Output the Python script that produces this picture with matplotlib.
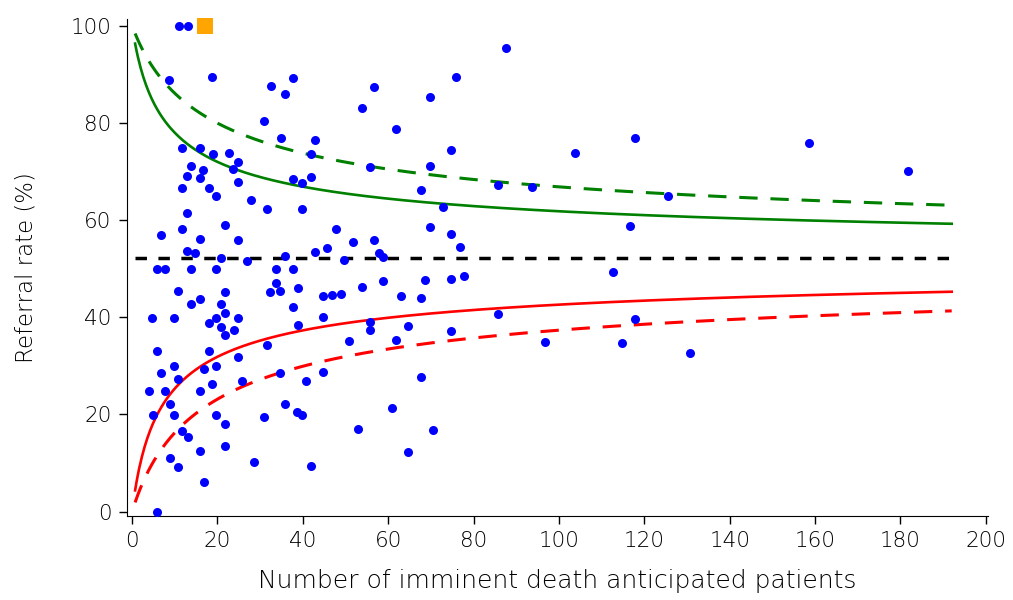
import numpy as np
import matplotlib
matplotlib.use("Agg")
import matplotlib.pyplot as plt

# Hospitals: number of imminent death anticipated patients vs referral rate (%)
n_patients = [
    11, 13, 8.7, 18.8, 32.5, 30.8,
    11.8, 15.8, 18.9, 22.7, 24.7, 23.7, 13.7, 16.7, 12.8, 15.8, 24.7,
    11.8, 17.9, 19.7, 27.8, 31.5, 12.8, 21.8, 11.8, 6.8, 15.8, 24.7, 12.8, 14.8,
    20.8, 26.9, 5.8, 7.8, 13.7, 19.7, 10.7, 21.8, 32.3, 15.8, 13.7, 20.8, 21.8,
    19.7, 4.7, 9.8, 24.7, 17.9, 20.8, 23.9, 21.8, 5.9, 17.9, 31.6,
    24.7, 9.8, 6.8, 16.9, 19.7, 10.7, 3.9, 7.8, 15.8, 18.8, 25.8, 8.8, 4.8, 9.8,
    19.7, 21.8, 30.8, 11.8, 13.0, 21.8, 15.8, 8.8, 10.8, 28.6, 16.8, 5.9,
    37.8, 35.8, 56.7, 53.8, 61.7, 34.8, 42.8, 41.8, 55.7, 37.8, 39.7, 41.8,
    39.7, 47.8, 51.8, 56.7, 45.7, 42.9, 57.8, 35.8, 49.7, 58.8, 33.7, 37.8, 58.7,
    33.7, 34.7, 38.8, 53.8, 44.8, 46.8, 49.0, 62.9, 37.8, 44.8, 38.8, 55.7, 55.7,
    50.9, 61.8,
    34.7, 44.8, 40.7, 35.8, 38.7, 39.9, 60.8, 52.8, 41.8, 64.6,
    87.7, 75.8, 69.8, 74.6, 103.7, 69.8, 67.7, 85.6, 93.7, 72.8, 69.8, 74.6, 76.8,
    68.6, 74.6, 77.8, 67.7, 85.6, 64.7, 74.6, 96.7, 67.7, 70.6,
    117.8, 158.6, 181.7, 125.6, 116.6, 112.7, 117.8, 114.8, 130.8,
]
referral_rate = [
    100, 100, 88.8, 89.4, 87.7, 80.4,
    74.8, 74.8, 73.6, 73.8, 71.9, 70.6, 71.2, 70.4, 69.0, 68.6, 67.9,
    66.6, 66.6, 64.9, 64.2, 62.3, 61.4, 59.0, 58.1, 57.0, 56.1, 55.9, 53.7, 53.2,
    52.3, 51.6, 49.9, 49.9, 49.9, 49.9, 45.4, 45.3, 45.3, 43.7, 42.8, 42.8, 40.8,
    39.9, 39.9, 39.9, 39.9, 38.8, 38.1, 37.4, 36.4, 33.1, 33.1, 34.3,
    31.8, 29.9, 28.5, 29.4, 29.9, 27.3, 24.9, 24.9, 24.9, 26.2, 26.8, 22.1, 19.9, 19.9,
    19.9, 18.1, 19.4, 16.6, 15.4, 13.6, 12.5, 11.0, 9.1, 10.3, 6.0, 0,
    89.3, 85.9, 87.5, 83.1, 78.8, 77.0, 76.5, 73.6, 71.0, 68.4, 67.6, 68.8,
    62.3, 58.1, 55.6, 55.9, 54.2, 53.5, 53.3, 52.6, 51.8, 52.4, 49.9, 49.9, 47.4,
    47.0, 45.4, 46.1, 46.2, 44.3, 44.5, 44.8, 44.3, 42.1, 40.0, 38.4, 39.1, 37.3,
    35.1, 35.4,
    28.5, 28.8, 26.8, 22.1, 20.5, 19.9, 21.3, 17.0, 9.4, 12.3,
    95.4, 89.4, 85.4, 74.5, 73.9, 71.2, 66.1, 67.3, 66.8, 62.8, 58.6, 57.2, 54.4,
    47.6, 47.8, 48.6, 43.9, 40.6, 38.3, 37.2, 35.0, 27.8, 16.8,
    76.9, 75.8, 70.1, 64.9, 58.8, 49.4, 39.7, 34.7, 32.7,
]

# highlighted hospital
highlight_n = [17]
highlight_rate = [100]

# overall referral rate and funnel range
mean_rate = 52.3
n_min, n_max = 0.7, 192


def wilson_limits(n, p, z):
    # Wilson score interval around the overall rate
    zz = z * z / n
    center = (p + zz / 2) / (1 + zz)
    half = z * np.sqrt(p * (1 - p) / n + z * z / (4 * n * n)) / (1 + zz)
    return (center - half) * 100, (center + half) * 100


n_grid = np.linspace(n_min, n_max, 600)
p = mean_rate / 100
lo95, hi95 = wilson_limits(n_grid, p, 1.96)
lo998, hi998 = wilson_limits(n_grid, p, 3.09)

fig = plt.figure(figsize=(10.13, 6), dpi=100)
ax = fig.add_axes([127 / 1013, 84 / 600, 861 / 1013, 497 / 600])

ax.plot(n_grid, hi95, color="#008000", lw=1.9, zorder=2)
ax.plot(n_grid, hi998, color="#008000", lw=2.2, dashes=(6, 4.2), zorder=2)
ax.plot(n_grid, lo95, color="#ff0000", lw=1.9, zorder=2)
ax.plot(n_grid, lo998, color="#ff0000", lw=2.2, dashes=(6, 4.2), zorder=2)
ax.plot([n_min, n_max], [mean_rate, mean_rate], color="black", lw=2.5,
        dashes=(3.3, 3.3), zorder=2)

ax.plot(n_patients, referral_rate, "o", color="#0000ff", markersize=6.5,
        markeredgewidth=0, zorder=3)
ax.plot(highlight_n, highlight_rate, "s", color="#ffa500", markersize=11,
        markeredgewidth=0, zorder=3, clip_on=False)

ax.set_xlim(-1.2, 200.5)
ax.set_ylim(-0.9, 101.4)
ax.set_xticks(range(0, 201, 20))
ax.set_yticks(range(0, 101, 20))
ax.spines["top"].set_visible(False)
ax.spines["right"].set_visible(False)
ax.tick_params(direction="out", length=6, width=1, labelsize=15.5, pad=5)
for lab in ax.get_xticklabels() + ax.get_yticklabels():
    lab.set_fontweight("light")

ax.set_xlabel("Number of imminent death anticipated patients", fontsize=18,
              fontweight="light", labelpad=13)
ax.set_ylabel("Referral rate (%)", fontsize=16.5, fontweight="light",
              labelpad=24)

fig.savefig("out.png", dpi=100)
